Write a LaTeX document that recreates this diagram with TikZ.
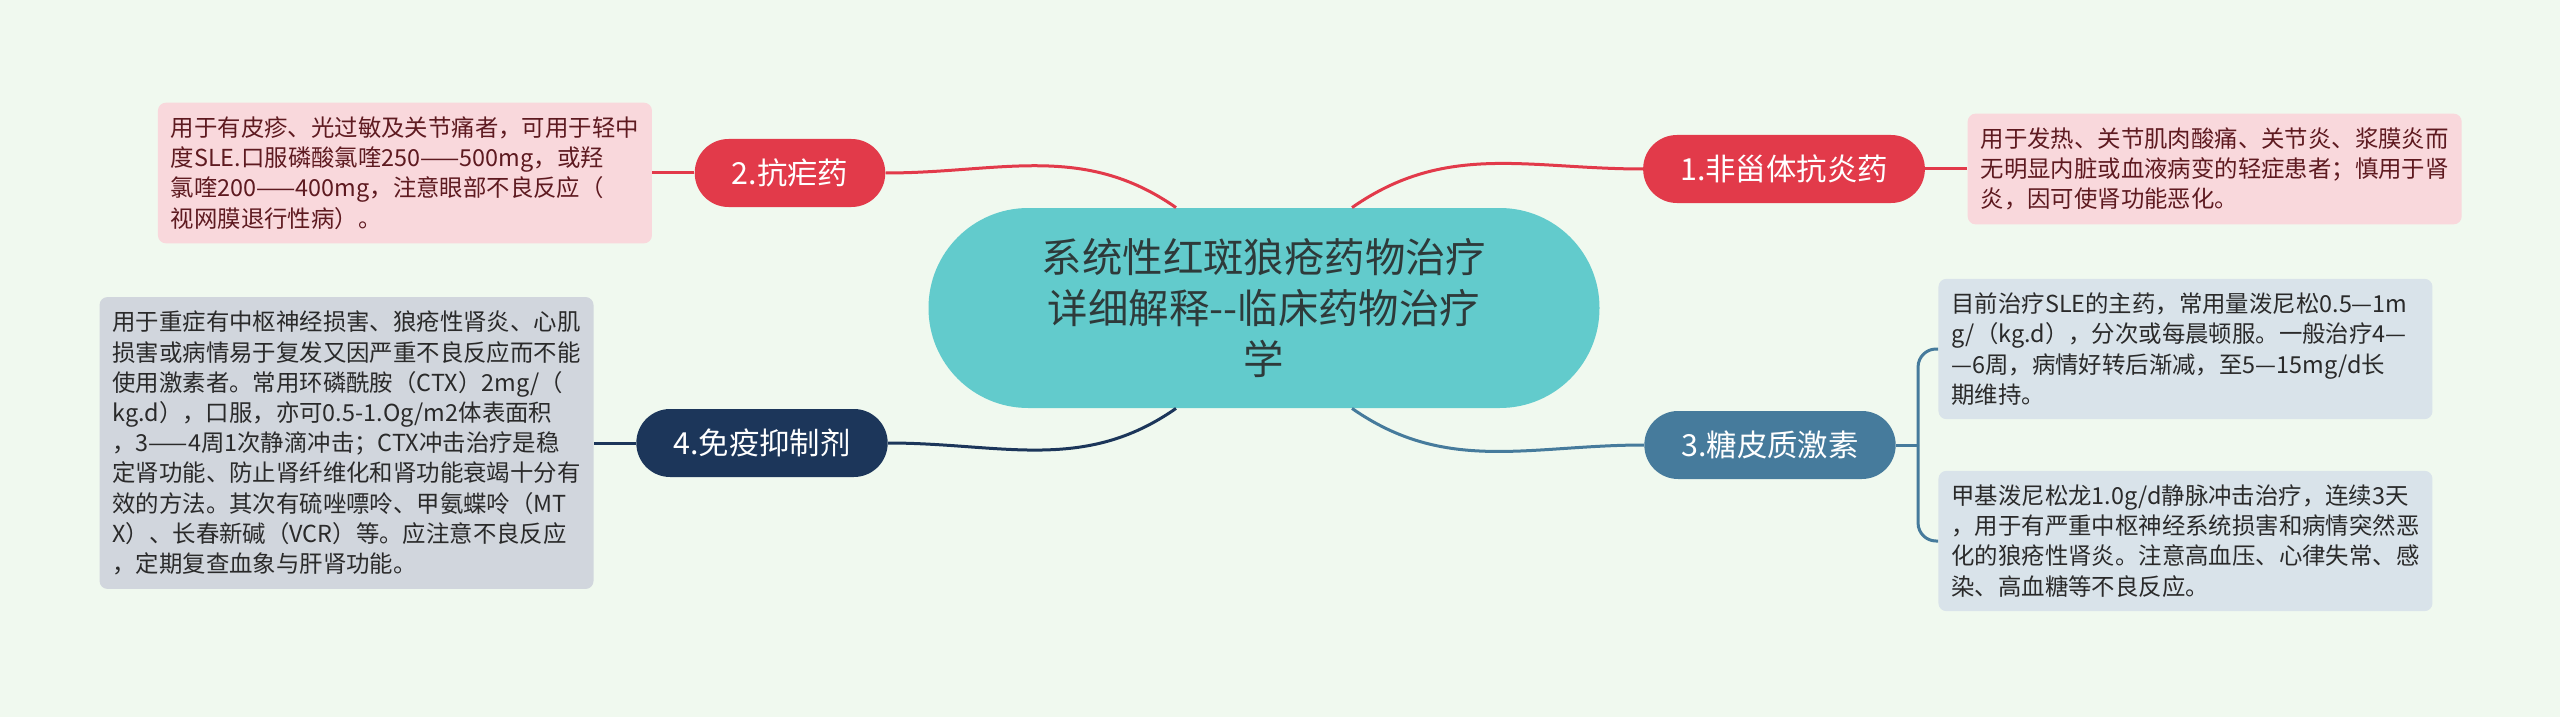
\documentclass[tikz,border=0pt]{standalone}
\usepackage{fontspec}
\setmainfont{Noto Sans CJK SC}
\usetikzlibrary{positioning}
\usetikzlibrary{calc}
\definecolor{bgc}{HTML}{F0F9EF}
\definecolor{centc}{HTML}{62CBCC}
\definecolor{centt}{HTML}{2E3A3A}
\definecolor{redc}{HTML}{E23A4A}
\definecolor{pinkc}{HTML}{F9D8DC}
\definecolor{pinkt}{HTML}{5E1A20}
\definecolor{bluec}{HTML}{467B9C}
\definecolor{navyc}{HTML}{1C365A}
\definecolor{greyc}{HTML}{D1D6DD}
\definecolor{paleb}{HTML}{D9E3EA}
\definecolor{leaft}{HTML}{2A2A2A}
\tikzset{central/.style={fill=centc, text=centt, rounded corners=49.9pt, minimum width=335.5pt, minimum height=100pt, align=center, font=\fontsize{20.2pt}{25.7pt}\selectfont}}
\tikzset{br/.style={rounded corners=16.9pt, minimum height=34pt, inner xsep=18.5pt, text=white, font=\fontsize{15.2pt}{18pt}\selectfont}}
\tikzset{leaf/.style={rounded corners=4pt, text width=234pt, inner xsep=6.5pt, inner ysep=7pt, align=left, font=\fontsize{11.7pt}{15.1pt}\selectfont}}
\tikzset{ln/.style={line width=1.5pt}}

\begin{document}
\begin{tikzpicture}[x=0.5pt, y=-0.5pt]
        \fill[bgc] (0,0) rectangle (2560,717);
        \useasboundingbox (0,0) rectangle (2560,717);

        \node[central] (c) at (1264,308) {系统性红斑狼疮药物治疗\\详细解释-{}-临床药物治疗\\学};

        \node[br, fill=redc] (n1) at (1784,169) {1.非甾体抗炎药};
        \node[br, fill=redc] (n2) at (790,173) {2.抗疟药};
        \node[br, fill=bluec] (n3) at (1770,445) {3.糖皮质激素};
        \node[br, fill=navyc] (n4) at (762,443) {4.免疫抑制剂};

        \node[leaf, fill=pinkc, text=pinkt, right=21pt of n1] (d1) {用于发热、关节肌肉酸痛、关节炎、浆膜炎而\\无明显内脏或血液病变的轻症患者；慎用于肾\\炎，因可使肾功能恶化。};
        \node[leaf, fill=pinkc, text=pinkt, left=21pt of n2] (d2) {用于有皮疹、光过敏及关节痛者，可用于轻中\\度SLE.口服磷酸氯喹250——500mg，或羟\\氯喹200——400mg，注意眼部不良反应（\\视网膜退行性病）。};
        \node[leaf, fill=paleb, text=leaft, right=21pt of n3, yshift=48pt] (d3a) {目前治疗SLE的主药，常用量泼尼松0.5—1m\\g/（kg.d），分次或每晨顿服。一般治疗4—\\—6周，病情好转后渐减，至5—15mg/d长\\期维持。};
        \node[leaf, fill=paleb, text=leaft, right=21pt of n3, yshift=-48pt] (d3b) {甲基泼尼松龙1.0g/d静脉冲击治疗，连续3天\\，用于有严重中枢神经系统损害和病情突然恶\\化的狼疮性肾炎。注意高血压、心律失常、感\\染、高血糖等不良反应。};
        \node[leaf, fill=greyc, text=leaft, left=21pt of n4] (d4) {用于重症有中枢神经损害、狼疮性肾炎、心肌\\损害或病情易于复发又因严重不良反应而不能\\使用激素者。常用环磷酰胺（CTX）2mg/（\\kg.d），口服，亦可0.5-1.Og/m2体表面积\\，3——4周1次静滴冲击；CTX冲击治疗是稳\\定肾功能、防止肾纤维化和肾功能衰竭十分有\\效的方法。其次有硫唑嘌呤、甲氨蝶呤（MT\\X）、长春新碱（VCR）等。应注意不良反应\\，定期复查血象与肝肾功能。};

        \draw[ln, redc] ($(c.north)+(44pt,0)$) to[out=35, in=180] (n1.west);
        \draw[ln, redc] ($(c.north)-(44pt,0)$) to[out=145, in=0] (n2.east);
        \draw[ln, bluec] ($(c.south)+(44pt,0)$) to[out=-35, in=180] (n3.west);
        \draw[ln, navyc] ($(c.south)-(44pt,0)$) to[out=215, in=0] (n4.east);

        \draw[ln, redc] (n1.east) -- (d1.west);
        \draw[ln, redc] (n2.west) -- (d2.east);
        \draw[ln, navyc] (n4.west) -- (d4.east);
        \draw[ln, bluec] (n3.east) -- ++(11pt,0) coordinate (fork);
        \draw[ln, bluec, rounded corners=9pt] (fork) |- (d3a.west);
        \draw[ln, bluec, rounded corners=9pt] (fork) |- (d3b.west);
    \end{tikzpicture}
\end{document}
